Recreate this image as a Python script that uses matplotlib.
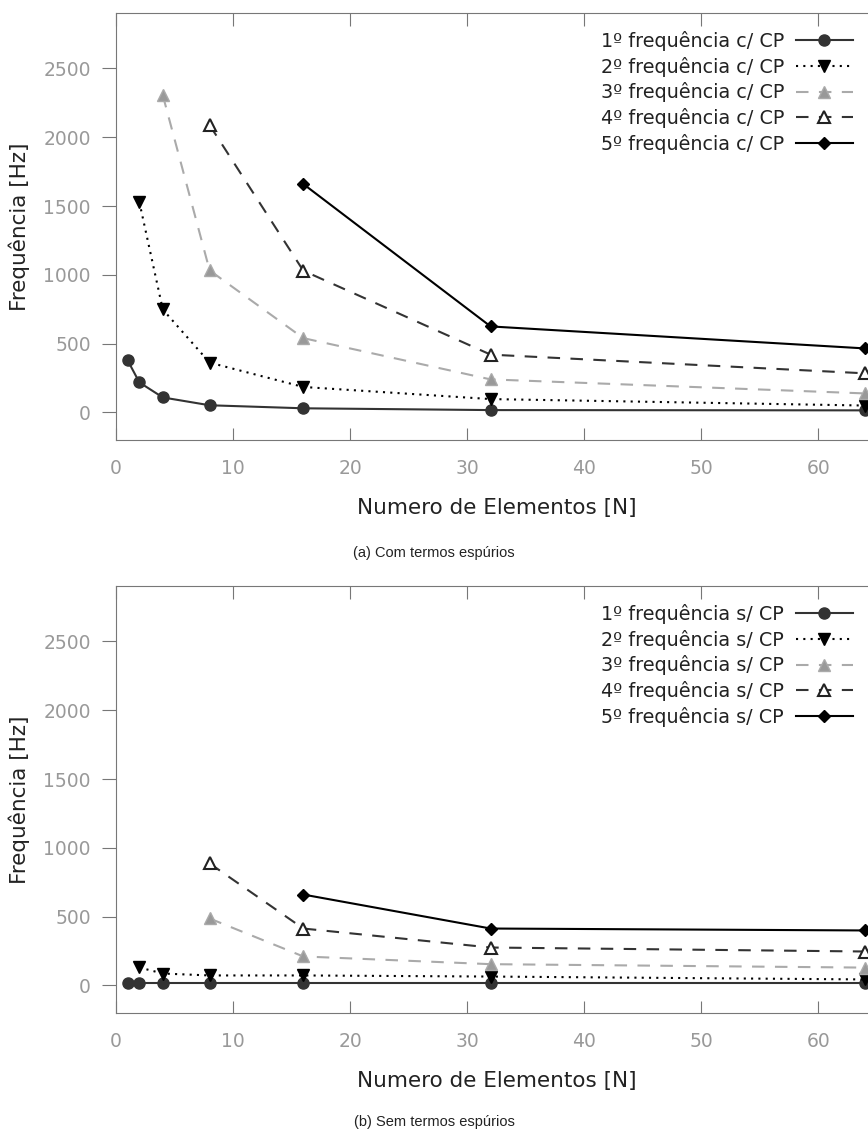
import matplotlib.pyplot as plt

n_elem = [1, 2, 4, 8, 16, 32, 64]

# com termos espurios (c/ CP)
com_f1 = [378, 218, 109, 52, 30, 17, 15]
com_f2 = [1528, 748, 362, 185, 97, 50]
com_f3 = [2305, 1032, 540, 240, 138]
com_f4 = [2088, 1030, 420, 284]
com_f5 = [1660, 625, 465]

# sem termos espurios (s/ CP)
sem_f1 = [15, 15, 15, 15, 15, 15, 15]
sem_f2 = [131, 87, 73, 73, 65, 44]
sem_f3 = [487, 211, 155, 130]
sem_f4 = [887, 414, 276, 247]
sem_f5 = [661, 414, 400]

labels = ["1º frequência", "2º frequência", "3º frequência", "4º frequência", "5º frequência"]
captions = ["(a) Com termos espúrios", "(b) Sem termos espúrios"]

styles = [
    dict(color="#333333", ls="-", marker="o", ms=8, mfc="#333333"),
    dict(color="#000000", ls=(0, (1, 2.5)), marker="v", ms=8, mfc="#000000"),
    dict(color="#aaaaaa", ls=(0, (6, 5)), marker="^", ms=8, mfc="#999999"),
    dict(color="#333333", ls=(0, (6, 5)), marker="^", ms=8, mfc="white", mew=1.5),
    dict(color="#000000", ls="-", marker="D", ms=6, mfc="#000000"),
]

fig = plt.figure(figsize=(8.68, 11.33), dpi=100)
panels = [
    ([com_f1, com_f2, com_f3, com_f4, com_f5], "c/ CP", 0.6117, 29),
    ([sem_f1, sem_f2, sem_f3, sem_f4, sem_f5], "s/ CP", 0.1059, 602),
]

for series, tag, bottom, leg_top in panels:
    ax = fig.add_axes([0.1336, bottom, 0.8767, 0.3765])
    for vals, lab, st in zip(series, labels, styles):
        xs = n_elem[len(n_elem) - len(vals):]
        ax.plot(xs, vals, lw=1.5, mec=st["color"] if st["mfc"] != "white" else "#222222",
                label=f"{lab} {tag}", clip_on=False, **st)
    ax.set_xlim(0, 65)
    ax.set_ylim(-200, 2900)
    ax.set_xticks(range(0, 61, 10))
    ax.set_yticks(range(0, 2501, 500))
    for sp in ax.spines.values():
        sp.set_color("#777777")
    ax.tick_params(axis="x", direction="in", top=True, length=9, color="#777777",
                   labelcolor="#999999", labelsize=13.5, pad=14)
    ax.tick_params(axis="y", direction="out", length=10, color="#777777",
                   labelcolor="#999999", labelsize=13.5, pad=8)
    ax.set_xlabel("Numero de Elementos [N]", fontsize=15.5, color="#222222", labelpad=14)
    ax.set_ylabel("Frequência [Hz]", fontsize=15.5, color="#222222", labelpad=10)
    ax.legend(loc="upper right", bbox_to_anchor=(855 / 868, 1 - leg_top / 1133),
              bbox_transform=fig.transFigure, frameon=False, markerfirst=False,
              fontsize=13.8, labelcolor="#222222", handlelength=3.0,
              labelspacing=0.3, borderaxespad=0.0, borderpad=0.1, handletextpad=0.6)

fig.text(0.5, 1 - 553 / 1133, captions[0], ha="center", va="center",
         fontsize=10.5, family="Liberation Sans", color="#222222")
fig.text(0.5, 1 - 1122 / 1133, captions[1], ha="center", va="center",
         fontsize=10.5, family="Liberation Sans", color="#222222")

fig.savefig("out.png", dpi=100)
